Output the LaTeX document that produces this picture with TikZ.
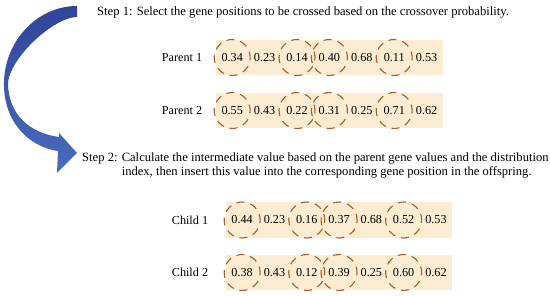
\documentclass[tikz,border=0pt]{standalone}
\usepackage{fontspec}
\setmainfont{Liberation Serif}
\begin{document}
\begin{tikzpicture}[x=1pt,y=-1pt,
  cell/.style={rectangle, fill=cellfill, minimum width=32.5pt, minimum height=35.5pt, inner sep=0pt, font=\fontsize{12.2}{14}\selectfont},
  ring/.style={circle, draw=ringcol, line width=1.1pt, dash pattern=on 8pt off 6pt, dash phase=2pt, minimum size=36pt, inner sep=0pt},
  rowlabel/.style={font=\fontsize{12.2}{14}\selectfont, inner sep=0pt},
  steptext/.style={font=\fontsize{12.6}{14}\selectfont, inner sep=0pt, anchor=west}]
\definecolor{cellfill}{HTML}{FCEDD2}
\definecolor{ringcol}{HTML}{A65B2B}
\definecolor{arrtop}{HTML}{30449A}
\definecolor{arrbot}{HTML}{4A6BBE}
\useasboundingbox (0,0) rectangle (550,296);

% curved arrow
\shade[top color=arrtop, bottom color=arrbot]
  (77,6) .. controls (38,6) and (5,40) .. (4,82)
  .. controls (3,118) and (25,146) .. (58,151)
  -- (57,173) -- (77,153) -- (59,133) -- (59,137)
  .. controls (30,133) and (8,115) .. (8,82)
  .. controls (12,55) and (55,17) .. (77,17) -- cycle;

% step texts
\node[steptext] (step1) at (97,12) {Step 1: Select the gene positions to be crossed based on the crossover probability.};
\node[steptext] (step2) at (82,166) {\begin{tabular}{@{}l@{ }l@{}}Step 2: & Calculate the intermediate value based on the parent gene values and the distribution\\ & index, then insert this value into the corresponding gene position in the offspring.\end{tabular}};

% rows
\node[rowlabel] (lp1) at (182,57.5) {Parent 1};
\node[rowlabel] (lp2) at (182,110.5) {Parent 2};
\node[rowlabel] (lc1) at (190,220) {Child 1};
\node[rowlabel] (lc2) at (190,272.5) {Child 2};

\foreach \v [count=\i] in {0.34,0.23,0.14,0.40,0.68,0.11,0.53}
  \node[cell] (pa\i) at ({216+32.4*(\i-0.5)},57.5) {\v};
\foreach \v [count=\i] in {0.55,0.43,0.22,0.31,0.25,0.71,0.62}
  \node[cell] (pb\i) at ({216+32.4*(\i-0.5)},110.5) {\v};
\foreach \v [count=\i] in {0.44,0.23,0.16,0.37,0.68,0.52,0.53}
  \node[cell] (ca\i) at ({226+32.3*(\i-0.5)},220) {\v};
\foreach \v [count=\i] in {0.38,0.43,0.12,0.39,0.25,0.60,0.62}
  \node[cell] (cb\i) at ({226+32.3*(\i-0.5)},272.5) {\v};

\foreach \r in {pa,pb,ca,cb}
  \foreach \k in {1,3,4,6}
    \node[ring] at (\r\k) {};
\end{tikzpicture}
\end{document}
